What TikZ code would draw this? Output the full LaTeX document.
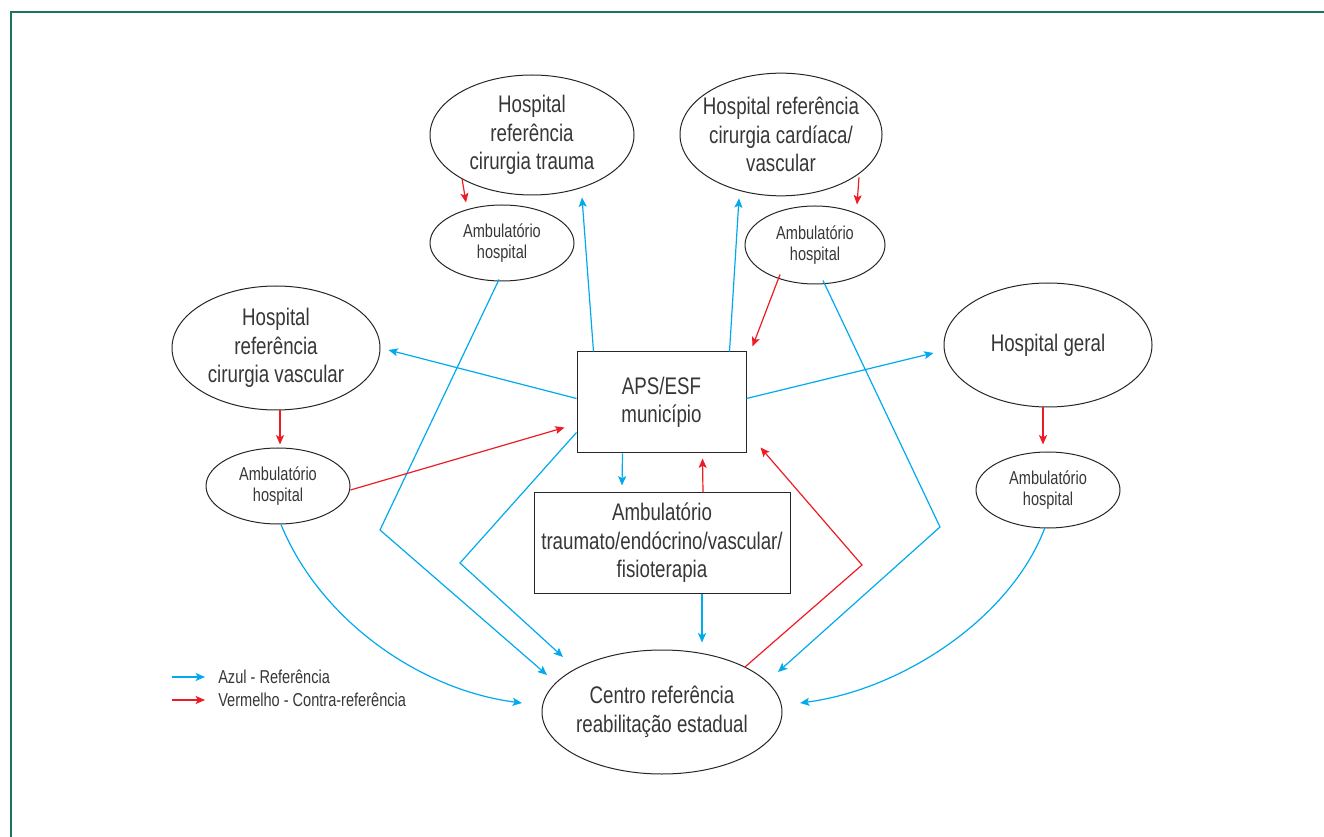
\documentclass[tikz,border=0pt]{standalone}
\usepackage{fontspec}
\setmainfont[FakeStretch=0.78]{Liberation Sans}
\usetikzlibrary{shapes.geometric,arrows.meta,calc}
\definecolor{azul}{RGB}{0,170,236}
\definecolor{vermelho}{RGB}{237,28,36}
\definecolor{moldura}{RGB}{30,115,95}
\definecolor{texto}{RGB}{55,55,55}

\begin{document}
\begin{tikzpicture}[x=0.75pt, y=-0.75pt,
		grande/.style={font=\fontsize{18}{21.4}\selectfont},
		pequeno/.style={font=\fontsize{14}{16}\selectfont},
		hosp/.style={ellipse, draw=black!85, line width=0.75pt, inner xsep=-12pt, inner ysep=0pt, align=center, text=texto, grande},
		amb/.style={hosp, pequeno, minimum width=108pt, minimum height=57pt},
		caixa/.style={rectangle, draw=black!85, line width=0.75pt, align=center, text=texto, grande},
		ref/.style={draw=azul, line width=0.9pt, -{Stealth[length=7pt, width=6pt, inset=1.5pt]}},
		contra/.style={ref, draw=vermelho}]
		\useasboundingbox (0,0) rectangle (1324,837);
		\draw[moldura, line width=1.5pt] (11,837) -- (11,12) -- (1324,12);

		% hospitais e ambulatorios
		\node[hosp, minimum width=153pt, minimum height=90pt] (trauma) at (532,135) {Hospital\\referência\\cirurgia trauma};
		\node[amb] (ambTrauma) at (502,243) {Ambulatório\\hospital};
		\node[hosp, minimum width=151.5pt, minimum height=92pt] (cardio) at (781,134.5) {Hospital referência\\cirurgia cardíaca/\\vascular};
		\node[amb, minimum width=105pt, minimum height=58.5pt] (ambCardio) at (815,245) {Ambulatório\\hospital};
		\node[hosp, minimum width=156pt, minimum height=93pt] (vascular) at (276,348) {Hospital\\referência\\cirurgia vascular};
		\node[amb] (ambVascular) at (278,486) {Ambulatório\\hospital};
		\node[hosp, minimum width=156pt, minimum height=93pt] (geral) at (1048,345) {Hospital geral};
		\node[amb] (ambGeral) at (1048,490) {Ambulatório\\hospital};
		\node[hosp, minimum width=180pt, minimum height=93pt] (centro) at (662,712) {Centro referência\\reabilitação estadual};
		\node[caixa, minimum width=126.75pt, minimum height=75.75pt] (aps) at (661.5,402.5) {APS/ESF\\município};
		\node[caixa, minimum width=192pt, minimum height=75pt] (ambEsp) at (662,543) {Ambulatório\\traumato/endócrino/vascular/\\fisioterapia};

		% referencia
		\draw[ref] ($(aps.north west)+(17,0)$) -- ($(trauma.south)+(50,2)$);
		\draw[ref] ($(aps.north east)+(-17,0)$) -- ($(cardio.south)+(-42,2)$);
		\draw[ref] ($(aps.west)+(0,-4)$) -- ($(vascular.east)+(8,2)$);
		\draw[ref] ($(aps.east)+(0,-4)$) -- ($(geral.west)+(-10,8)$);
		\draw[ref] ($(ambTrauma.south)+(-3,-2)$) -- (380,530) -- ($(centro.center)+(-115,-37)$);
		\draw[ref] ($(aps.south west)+(0,-21)$) -- (460,563) -- ($(centro.center)+(-99,-55)$);
		\draw[ref] ($(ambCardio.south)+(8,-4)$) -- (940,527) -- ($(centro.center)+(116,-40)$);
		\draw[ref] ($(ambVascular.south)+(3,0)$) .. controls (320,620) and (420,690) .. ($(centro.center)+(-140,-9)$);
		\draw[ref] ($(ambGeral.south)+(-3,-1)$) .. controls (1010,620) and (900,690) .. ($(centro.center)+(138,-9)$);
		\draw[ref] ($(aps.south)+(-39,0)$) -- ($(ambEsp.north)+(-40,-7)$);
		\draw[ref] ($(ambEsp.south)+(40,0)$) -- ($(centro.north)+(40,-7)$);

		% contra-referencia
		\draw[contra] ($(trauma.south)+(-70,-17)$) -- ($(ambTrauma.north)+(-36,-2)$);
		\draw[contra] ($(cardio.south)+(78,-19)$) -- ($(ambCardio.north)+(42,-1)$);
		\draw[contra] ($(ambCardio.south)+(-35,-10)$) -- ($(aps.north east)+(6,-5)$);
		\draw[contra] ($(vascular.south)+(4,0)$) -- ($(ambVascular.north)+(2,-3)$);
		\draw[contra] ($(geral.south)+(-5,0)$) -- ($(ambGeral.north)+(-5,-7)$);
		\draw[contra] ($(ambVascular.east)+(0,4)$) -- ($(aps.west)+(-12,25)$);
		\draw[contra] ($(ambEsp.north)+(41,0)$) -- ($(aps.south)+(41,5)$);
		\draw[contra] ($(centro.center)+(83,-45)$) -- (862,565) -- ($(aps.south east)+(14,-6)$);

		% legenda
		\coordinate (azulA) at (172,677);
		\coordinate (azulB) at (205,677);
		\coordinate (vermA) at (172,700);
		\coordinate (vermB) at (205,700);
		\draw[ref] (azulA) -- (azulB);
		\draw[contra] (vermA) -- (vermB);
		\node[pequeno, anchor=west, text=texto, inner sep=0pt] (azulT) at (218,677) {Azul - Referência};
		\node[pequeno, anchor=west, text=texto, inner sep=0pt] (vermT) at (218,700) {Vermelho - Contra-referência};
	\end{tikzpicture}
\end{document}
